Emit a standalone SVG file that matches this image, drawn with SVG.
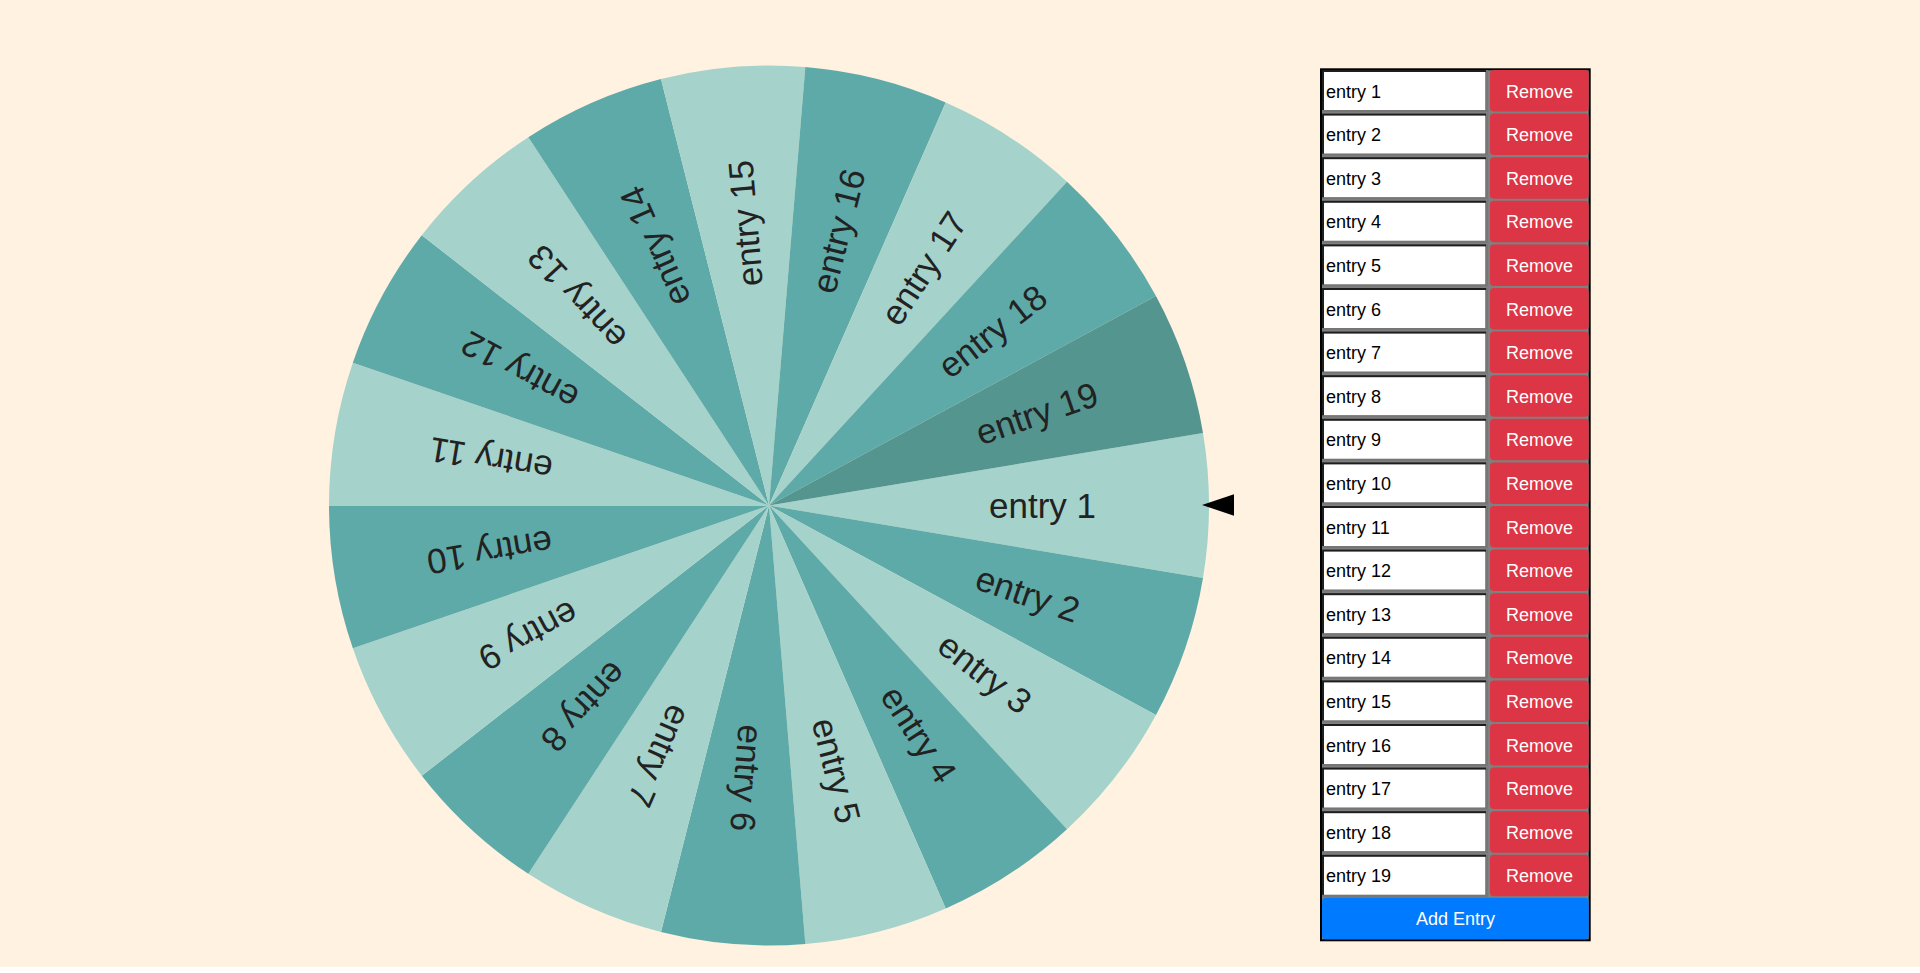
<svg xmlns="http://www.w3.org/2000/svg" width="1920" height="973" viewBox="0 0 1920 973">
<style>
.bg{fill:#fff2e1}
.lt{fill:#a5d2ca}
.dk{fill:#5eaaa8}
.dd{fill:#54958f}
.wl{font-family:"Liberation Sans",Arial,sans-serif;font-size:35px;fill:#222}
.inb{fill:#1e1e1e}
.inw{fill:#ffffff}
.inl{fill:#767676}
.it{font-family:"Liberation Sans",Arial,sans-serif;font-size:18px;fill:#000}
.rm{fill:#dc3545}
.bt{font-family:"Liberation Sans",Arial,sans-serif;font-size:18px;fill:#ffffff;text-anchor:middle}
.add{fill:#007bff}
</style>
<rect x="0" y="0" width="1920" height="973" fill="#ffffff"/>
<rect class="bg" x="0" y="0" width="1920" height="967"/>
<g id="wheel" transform="translate(769 505.5)">
<path class="lt" d="M0 0L434 -72.42A440 440 0 0 1 434 72.42Z"/>
<path class="dk" d="M0 0L434 72.42A440 440 0 0 1 386.97 209.42Z"/>
<path class="lt" d="M0 0L386.97 209.42A440 440 0 0 1 298 323.72Z"/>
<path class="dk" d="M0 0L298 323.72A440 440 0 0 1 176.75 402.94Z"/>
<path class="lt" d="M0 0L176.75 402.94A440 440 0 0 1 36.34 438.5Z"/>
<path class="dk" d="M0 0L36.34 438.5A440 440 0 0 1 -108.02 426.54Z"/>
<path class="lt" d="M0 0L-108.02 426.54A440 440 0 0 1 -240.66 368.35Z"/>
<path class="dk" d="M0 0L-240.66 368.35A440 440 0 0 1 -347.22 270.25Z"/>
<path class="lt" d="M0 0L-347.22 270.25A440 440 0 0 1 -416.16 142.87Z"/>
<path class="dk" d="M0 0L-416.16 142.87A440 440 0 0 1 -440 0Z"/>
<path class="lt" d="M0 0L-440 0A440 440 0 0 1 -416.16 -142.87Z"/>
<path class="dk" d="M0 0L-416.16 -142.87A440 440 0 0 1 -347.22 -270.25Z"/>
<path class="lt" d="M0 0L-347.22 -270.25A440 440 0 0 1 -240.66 -368.35Z"/>
<path class="dk" d="M0 0L-240.66 -368.35A440 440 0 0 1 -108.02 -426.54Z"/>
<path class="lt" d="M0 0L-108.02 -426.54A440 440 0 0 1 36.34 -438.5Z"/>
<path class="dk" d="M0 0L36.34 -438.5A440 440 0 0 1 176.75 -402.94Z"/>
<path class="lt" d="M0 0L176.75 -402.94A440 440 0 0 1 298 -323.72Z"/>
<path class="dk" d="M0 0L298 -323.72A440 440 0 0 1 386.97 -209.42Z"/>
<path class="dd" d="M0 0L386.97 -209.42A440 440 0 0 1 434 -72.42Z"/>
<text class="wl" x="220" y="12" transform="rotate(0)">entry 1</text>
<text class="wl" x="220" y="12" transform="rotate(18.947)">entry 2</text>
<text class="wl" x="220" y="12" transform="rotate(37.895)">entry 3</text>
<text class="wl" x="220" y="12" transform="rotate(56.842)">entry 4</text>
<text class="wl" x="220" y="12" transform="rotate(75.789)">entry 5</text>
<text class="wl" x="220" y="12" transform="rotate(94.737)">entry 6</text>
<text class="wl" x="220" y="12" transform="rotate(113.684)">entry 7</text>
<text class="wl" x="220" y="12" transform="rotate(132.632)">entry 8</text>
<text class="wl" x="220" y="12" transform="rotate(151.579)">entry 9</text>
<text class="wl" x="220" y="12" transform="rotate(170.526)">entry 10</text>
<text class="wl" x="220" y="12" transform="rotate(189.474)">entry 11</text>
<text class="wl" x="220" y="12" transform="rotate(208.421)">entry 12</text>
<text class="wl" x="220" y="12" transform="rotate(227.368)">entry 13</text>
<text class="wl" x="220" y="12" transform="rotate(246.316)">entry 14</text>
<text class="wl" x="220" y="12" transform="rotate(265.263)">entry 15</text>
<text class="wl" x="220" y="12" transform="rotate(284.211)">entry 16</text>
<text class="wl" x="220" y="12" transform="rotate(303.158)">entry 17</text>
<text class="wl" x="220" y="12" transform="rotate(322.105)">entry 18</text>
<text class="wl" x="220" y="12" transform="rotate(341.053)">entry 19</text>
</g>
<g id="pointer">
<polygon points="1202,505 1234,494.3 1234,515.7" fill="#000"/>
</g>
<g id="panel">
<rect x="1321" y="69.3" width="268.7" height="871" fill="#808080" stroke="#000" stroke-width="2"/>
</g>
<g id="rows">
<g id="row1" transform="translate(0 70)"><rect class="inl" x="1322" y="0" width="166" height="42"/><rect class="inb" x="1322" y="0" width="164" height="40"/><rect class="inw" x="1324" y="2" width="161.5" height="38"/><text class="it" x="1326" y="27.5">entry 1</text><rect class="rm" x="1490" y="0" width="98.7" height="41.5" rx="4"/><text class="bt" x="1539.5" y="27.5">Remove</text></g>
<g id="row2" transform="translate(0 113.6)"><rect class="inl" x="1322" y="0" width="166" height="42"/><rect class="inb" x="1322" y="0" width="164" height="40"/><rect class="inw" x="1324" y="2" width="161.5" height="38"/><text class="it" x="1326" y="27.5">entry 2</text><rect class="rm" x="1490" y="0" width="98.7" height="41.5" rx="4"/><text class="bt" x="1539.5" y="27.5">Remove</text></g>
<g id="row3" transform="translate(0 157.2)"><rect class="inl" x="1322" y="0" width="166" height="42"/><rect class="inb" x="1322" y="0" width="164" height="40"/><rect class="inw" x="1324" y="2" width="161.5" height="38"/><text class="it" x="1326" y="27.5">entry 3</text><rect class="rm" x="1490" y="0" width="98.7" height="41.5" rx="4"/><text class="bt" x="1539.5" y="27.5">Remove</text></g>
<g id="row4" transform="translate(0 200.8)"><rect class="inl" x="1322" y="0" width="166" height="42"/><rect class="inb" x="1322" y="0" width="164" height="40"/><rect class="inw" x="1324" y="2" width="161.5" height="38"/><text class="it" x="1326" y="27.5">entry 4</text><rect class="rm" x="1490" y="0" width="98.7" height="41.5" rx="4"/><text class="bt" x="1539.5" y="27.5">Remove</text></g>
<g id="row5" transform="translate(0 244.4)"><rect class="inl" x="1322" y="0" width="166" height="42"/><rect class="inb" x="1322" y="0" width="164" height="40"/><rect class="inw" x="1324" y="2" width="161.5" height="38"/><text class="it" x="1326" y="27.5">entry 5</text><rect class="rm" x="1490" y="0" width="98.7" height="41.5" rx="4"/><text class="bt" x="1539.5" y="27.5">Remove</text></g>
<g id="row6" transform="translate(0 288)"><rect class="inl" x="1322" y="0" width="166" height="42"/><rect class="inb" x="1322" y="0" width="164" height="40"/><rect class="inw" x="1324" y="2" width="161.5" height="38"/><text class="it" x="1326" y="27.5">entry 6</text><rect class="rm" x="1490" y="0" width="98.7" height="41.5" rx="4"/><text class="bt" x="1539.5" y="27.5">Remove</text></g>
<g id="row7" transform="translate(0 331.6)"><rect class="inl" x="1322" y="0" width="166" height="42"/><rect class="inb" x="1322" y="0" width="164" height="40"/><rect class="inw" x="1324" y="2" width="161.5" height="38"/><text class="it" x="1326" y="27.5">entry 7</text><rect class="rm" x="1490" y="0" width="98.7" height="41.5" rx="4"/><text class="bt" x="1539.5" y="27.5">Remove</text></g>
<g id="row8" transform="translate(0 375.2)"><rect class="inl" x="1322" y="0" width="166" height="42"/><rect class="inb" x="1322" y="0" width="164" height="40"/><rect class="inw" x="1324" y="2" width="161.5" height="38"/><text class="it" x="1326" y="27.5">entry 8</text><rect class="rm" x="1490" y="0" width="98.7" height="41.5" rx="4"/><text class="bt" x="1539.5" y="27.5">Remove</text></g>
<g id="row9" transform="translate(0 418.8)"><rect class="inl" x="1322" y="0" width="166" height="42"/><rect class="inb" x="1322" y="0" width="164" height="40"/><rect class="inw" x="1324" y="2" width="161.5" height="38"/><text class="it" x="1326" y="27.5">entry 9</text><rect class="rm" x="1490" y="0" width="98.7" height="41.5" rx="4"/><text class="bt" x="1539.5" y="27.5">Remove</text></g>
<g id="row10" transform="translate(0 462.4)"><rect class="inl" x="1322" y="0" width="166" height="42"/><rect class="inb" x="1322" y="0" width="164" height="40"/><rect class="inw" x="1324" y="2" width="161.5" height="38"/><text class="it" x="1326" y="27.5">entry 10</text><rect class="rm" x="1490" y="0" width="98.7" height="41.5" rx="4"/><text class="bt" x="1539.5" y="27.5">Remove</text></g>
<g id="row11" transform="translate(0 506)"><rect class="inl" x="1322" y="0" width="166" height="42"/><rect class="inb" x="1322" y="0" width="164" height="40"/><rect class="inw" x="1324" y="2" width="161.5" height="38"/><text class="it" x="1326" y="27.5">entry 11</text><rect class="rm" x="1490" y="0" width="98.7" height="41.5" rx="4"/><text class="bt" x="1539.5" y="27.5">Remove</text></g>
<g id="row12" transform="translate(0 549.6)"><rect class="inl" x="1322" y="0" width="166" height="42"/><rect class="inb" x="1322" y="0" width="164" height="40"/><rect class="inw" x="1324" y="2" width="161.5" height="38"/><text class="it" x="1326" y="27.5">entry 12</text><rect class="rm" x="1490" y="0" width="98.7" height="41.5" rx="4"/><text class="bt" x="1539.5" y="27.5">Remove</text></g>
<g id="row13" transform="translate(0 593.2)"><rect class="inl" x="1322" y="0" width="166" height="42"/><rect class="inb" x="1322" y="0" width="164" height="40"/><rect class="inw" x="1324" y="2" width="161.5" height="38"/><text class="it" x="1326" y="27.5">entry 13</text><rect class="rm" x="1490" y="0" width="98.7" height="41.5" rx="4"/><text class="bt" x="1539.5" y="27.5">Remove</text></g>
<g id="row14" transform="translate(0 636.8)"><rect class="inl" x="1322" y="0" width="166" height="42"/><rect class="inb" x="1322" y="0" width="164" height="40"/><rect class="inw" x="1324" y="2" width="161.5" height="38"/><text class="it" x="1326" y="27.5">entry 14</text><rect class="rm" x="1490" y="0" width="98.7" height="41.5" rx="4"/><text class="bt" x="1539.5" y="27.5">Remove</text></g>
<g id="row15" transform="translate(0 680.4)"><rect class="inl" x="1322" y="0" width="166" height="42"/><rect class="inb" x="1322" y="0" width="164" height="40"/><rect class="inw" x="1324" y="2" width="161.5" height="38"/><text class="it" x="1326" y="27.5">entry 15</text><rect class="rm" x="1490" y="0" width="98.7" height="41.5" rx="4"/><text class="bt" x="1539.5" y="27.5">Remove</text></g>
<g id="row16" transform="translate(0 724)"><rect class="inl" x="1322" y="0" width="166" height="42"/><rect class="inb" x="1322" y="0" width="164" height="40"/><rect class="inw" x="1324" y="2" width="161.5" height="38"/><text class="it" x="1326" y="27.5">entry 16</text><rect class="rm" x="1490" y="0" width="98.7" height="41.5" rx="4"/><text class="bt" x="1539.5" y="27.5">Remove</text></g>
<g id="row17" transform="translate(0 767.6)"><rect class="inl" x="1322" y="0" width="166" height="42"/><rect class="inb" x="1322" y="0" width="164" height="40"/><rect class="inw" x="1324" y="2" width="161.5" height="38"/><text class="it" x="1326" y="27.5">entry 17</text><rect class="rm" x="1490" y="0" width="98.7" height="41.5" rx="4"/><text class="bt" x="1539.5" y="27.5">Remove</text></g>
<g id="row18" transform="translate(0 811.2)"><rect class="inl" x="1322" y="0" width="166" height="42"/><rect class="inb" x="1322" y="0" width="164" height="40"/><rect class="inw" x="1324" y="2" width="161.5" height="38"/><text class="it" x="1326" y="27.5">entry 18</text><rect class="rm" x="1490" y="0" width="98.7" height="41.5" rx="4"/><text class="bt" x="1539.5" y="27.5">Remove</text></g>
<g id="row19" transform="translate(0 854.8)"><rect class="inl" x="1322" y="0" width="166" height="42"/><rect class="inb" x="1322" y="0" width="164" height="40"/><rect class="inw" x="1324" y="2" width="161.5" height="38"/><text class="it" x="1326" y="27.5">entry 19</text><rect class="rm" x="1490" y="0" width="98.7" height="41.5" rx="4"/><text class="bt" x="1539.5" y="27.5">Remove</text></g>
</g>
<g id="addEntry">
<rect class="add" x="1322" y="897.7" width="266.7" height="41.6" rx="4"/>
<text class="bt" x="1455.5" y="925.3">Add Entry</text>
</g>
<g id="connectors"/>
</svg>
